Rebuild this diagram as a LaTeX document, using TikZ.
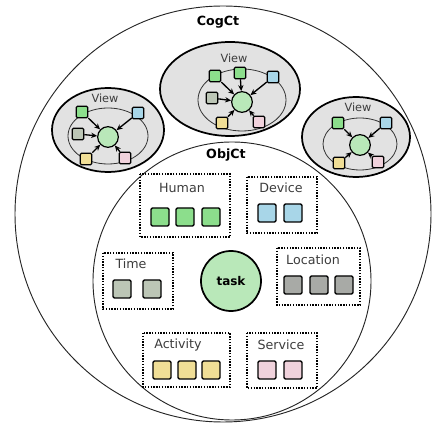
\documentclass[tikz,border=0pt]{standalone}
\usepackage{fontspec}
\setmainfont{DejaVu Sans}
\usetikzlibrary{arrows.meta}

\definecolor{hgreen}{RGB}{140,222,140}
\definecolor{dblue}{RGB}{168,214,232}
\definecolor{tgray}{RGB}{188,198,182}
\definecolor{lgray}{RGB}{168,170,166}
\definecolor{ayellow}{RGB}{240,222,150}
\definecolor{spink}{RGB}{240,210,220}
\definecolor{taskgreen}{RGB}{185,232,185}
\definecolor{viewgray}{RGB}{226,226,226}
\definecolor{txt}{RGB}{60,60,60}

\tikzset{
  ctx/.style={draw=black!85, line width=0.7pt},
  viewbg/.style={draw, fill=viewgray, line width=1.3pt},
  ring/.style={draw=black!80, line width=0.6pt},
  hub/.style={circle, draw, fill=taskgreen, line width=0.9pt, minimum size=15.5pt, inner sep=0pt},
  vsq/.style={draw, line width=0.9pt, rounded corners=0.8pt, minimum size=8.5pt, inner sep=0pt},
  gsq/.style={draw, line width=1pt, rounded corners=1pt, minimum size=13.5pt, inner sep=0pt},
  grp/.style={draw, line width=1.1pt, dash pattern=on 1pt off 1.1pt},
  link/.style={-{Stealth[length=4.5pt,width=4pt]}, line width=1pt},
  lbl/.style={text=txt, font=\fontsize{9.5}{11}\selectfont, inner sep=0pt},
  vlbl/.style={text=txt, font=\fontsize{8.5}{10}\selectfont, inner sep=0pt},
  title/.style={font=\fontsize{9.5}{11}\selectfont\bfseries, inner sep=0pt}
}

\begin{document}
\begin{tikzpicture}[x=0.75pt,y=-0.75pt]
  \useasboundingbox (0,0) rectangle (432,427);

  % contexts
  \draw[ctx] (223,214) circle [radius=208];
  \draw[ctx] (232,281) circle [radius=139];
  \node[title] (cogct) at (218,22) {CogCt};
  \node[title] (objct) at (226,155) {ObjCt};

  % left view
  \draw[viewbg] (108,130) ellipse [x radius=56, y radius=42];
  \node[vlbl] (vl) at (105,98) {View};
  \draw[ring] (108,136) ellipse [x radius=40, y radius=28];
  \node[hub] (ha) at (108,137) {};
  \node[vsq, fill=hgreen] (a1) at (82,112) {};
  \node[vsq, fill=dblue] (a2) at (138,113) {};
  \node[vsq, fill=tgray] (a3) at (78,134) {};
  \node[vsq, fill=ayellow] (a4) at (86,159) {};
  \node[vsq, fill=spink] (a5) at (125,158) {};
  \foreach \i in {1,...,5}
    \draw[link] (a\i) -- (ha);

  % middle view
  \draw[viewbg] (230,89) ellipse [x radius=70, y radius=47];
  \node[vlbl] (vm) at (234,58) {View};
  \draw[ring] (242,100) ellipse [x radius=44, y radius=31];
  \node[hub] (hb) at (242,102) {};
  \node[vsq, fill=hgreen] (b1) at (215,76) {};
  \node[vsq, fill=hgreen] (b2) at (240,73) {};
  \node[vsq, fill=dblue] (b3) at (273,77) {};
  \node[vsq, fill=tgray] (b4) at (212,98) {};
  \node[vsq, fill=ayellow] (b5) at (222,123) {};
  \node[vsq, fill=spink] (b6) at (259,122) {};
  \foreach \i in {1,...,6}
    \draw[link] (b\i) -- (hb);

  % right view
  \draw[viewbg] (356,137) ellipse [x radius=54, y radius=40];
  \node[vlbl] (vr) at (358,107) {View};
  \draw[ring] (360,144) ellipse [x radius=37, y radius=26];
  \node[hub] (hc) at (360,145) {};
  \node[vsq, fill=hgreen] (c1) at (338,123) {};
  \node[vsq, fill=dblue] (c2) at (386,123) {};
  \node[vsq, fill=ayellow] (c3) at (339,163) {};
  \node[vsq, fill=spink] (c4) at (378,162) {};
  \foreach \i in {1,...,4}
    \draw[link] (c\i) -- (hc);

  % object context groups
  \draw[grp] (140,174) rectangle (230,237);
  \node[lbl] (lhuman) at (182,188) {Human};
  \node[gsq, fill=hgreen] (h1) at (160,217) {};
  \node[gsq, fill=hgreen] (h2) at (185,217) {};
  \node[gsq, fill=hgreen] (h3) at (211,217) {};

  \draw[grp] (247,177) rectangle (317,233);
  \node[lbl] (ldevice) at (281,188) {Device};
  \node[gsq, fill=dblue] (d1) at (267,213) {};
  \node[gsq, fill=dblue] (d2) at (293,213) {};

  \draw[grp] (103,253) rectangle (173,309);
  \node[lbl] (ltime) at (131,264) {Time};
  \node[gsq, fill=tgray] (t1) at (122,289) {};
  \node[gsq, fill=tgray] (t2) at (152,289) {};

  \node[circle, draw, fill=taskgreen, line width=1.3pt, minimum size=45pt, inner sep=0pt,
        font=\fontsize{9}{11}\selectfont\bfseries] (task) at (231,281) {task};

  \draw[grp] (277,248) rectangle (360,305);
  \node[lbl] (lloc) at (313,260) {Location};
  \node[gsq, fill=lgray] (l1) at (293,285) {};
  \node[gsq, fill=lgray] (l2) at (319,285) {};
  \node[gsq, fill=lgray] (l3) at (344,285) {};

  \draw[grp] (143,333) rectangle (230,387);
  \node[lbl] (lact) at (178,345) {Activity};
  \node[gsq, fill=ayellow] (ac1) at (162,370) {};
  \node[gsq, fill=ayellow] (ac2) at (187,370) {};
  \node[gsq, fill=ayellow] (ac3) at (211,370) {};

  \draw[grp] (247,333) rectangle (317,388);
  \node[lbl] (lserv) at (281,345) {Service};
  \node[gsq, fill=spink] (s1) at (267,370) {};
  \node[gsq, fill=spink] (s2) at (293,370) {};
\end{tikzpicture}
\end{document}
